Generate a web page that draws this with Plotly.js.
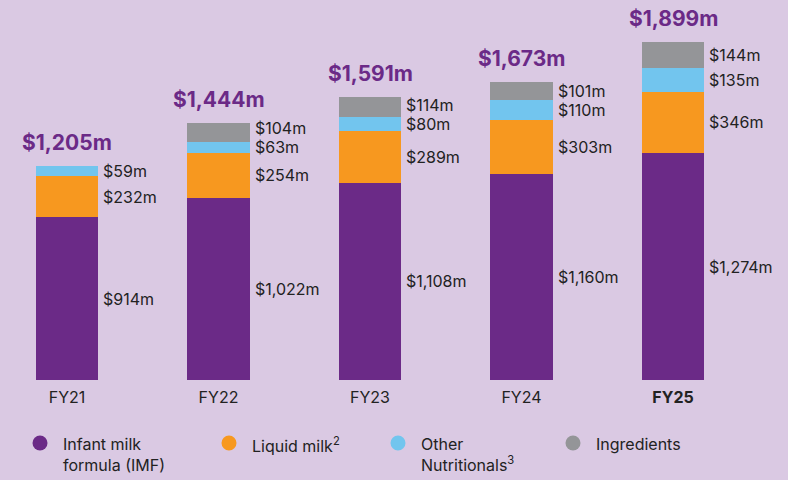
<!DOCTYPE html>
<html>
<head>
<meta charset="utf-8">
<script src="https://cdn.plot.ly/plotly-3.0.1.min.js"></script>
<style>html,body{margin:0;padding:0;background:#dac9e3;}#chart{width:788px;height:480px;}</style>
</head>
<body>
<div id="chart"></div>
<script>
const years = ['FY21', 'FY22', 'FY23', 'FY24', 'FY25'];
const imf = [914, 1022, 1108, 1160, 1274];
const liquidMilk = [232, 254, 289, 303, 346];
const otherNutritionals = [59, 63, 80, 110, 135];
const ingredients = [null, 104, 114, 101, 144];
const totals = [1205, 1444, 1591, 1673, 1899];
const seriesNames = ['Infant milk<br>formula (IMF)', 'Liquid milk<sup>2</sup>', 'Other<br>Nutritionals<sup>3</sup>', 'Ingredients'];
const colors = ['#6b2a87', '#f7981f', '#72c5ee', '#949598'];

const W = 788, H = 480, T = 0, B = 100;
const plotH = H - T - B;
const SCALE = 0.178; // px per $m
const FONT = 'Inter, sans-serif';
const xs = years.map((_, i) => i);
const barW = 0.41;
const series = [imf, liquidMilk, otherNutritionals, ingredients];

const fmt = v => '$' + v.toLocaleString('en-US') + 'm';

const traces = series.map((s, k) => ({
  type: 'bar', x: xs, y: s.map(v => v == null ? 0 : v), name: seriesNames[k].replace(/<[^>]+>/g, ' '),
  marker: {color: colors[k], line: {width: 0}}, width: barW, showlegend: false,
  hoverinfo: 'skip'
}));

const annotations = [];
const gap = 19 / SCALE;
xs.forEach(i => {
  let base = 0;
  const labs = [];
  series.forEach(s => {
    const v = s[i];
    if (v == null) return;
    labs.push({v: v, y: base + v / 2});
    base += v;
  });
  for (let k = 1; k < labs.length; k++) {
    if (labs[k].y < labs[k - 1].y + gap) labs[k].y = labs[k - 1].y + gap;
  }
  labs.forEach(l => annotations.push({x: i + barW / 2, y: l.y, xref: 'x', yref: 'y', text: fmt(l.v),
    showarrow: false, xanchor: 'left', yanchor: 'middle', xshift: 4, borderpad: 0,
    font: {family: FONT, size: 16, color: '#222'}}));
  annotations.push({x: i, y: totals[i], xref: 'x', yref: 'y', text: '<b>' + fmt(totals[i]) + '</b>',
    showarrow: false, xanchor: 'center', yanchor: 'bottom', yshift: 9,
    font: {family: FONT, size: 21, color: '#6b2a87'}});
});

// legend (drawn)
const py = p => (H - B - p) / plotH;
const px = p => p / W;
const legendX = [40, 229, 398, 573];
const shapes = [];
legendX.forEach((cx, k) => {
  shapes.push({type: 'circle', xref: 'paper', yref: 'paper',
    x0: px(cx - 7.5), x1: px(cx + 7.5), y0: py(443 + 7.5), y1: py(443 - 7.5),
    fillcolor: colors[k], line: {width: 0}});
  annotations.push({xref: 'paper', yref: 'paper', x: px(cx + 21), y: py(432),
    text: seriesNames[k], showarrow: false, xanchor: 'left', yanchor: 'top', align: 'left',
    font: {family: FONT, size: 16, color: '#222'}});
});

const layout = {
  width: W, height: H, margin: {l: 0, r: 0, t: T, b: B},
  paper_bgcolor: '#dac9e3', plot_bgcolor: '#dac9e3',
  barmode: 'stack',
  xaxis: {range: [-67 / 151.5, (W - 67) / 151.5], tickvals: xs,
    ticktext: years.map((y, i) => i === years.length - 1 ? '<b>' + y + '</b>' : y),
    showgrid: false, zeroline: false, showline: false, ticks: '', fixedrange: true,
    ticklabelstandoff: 6,
    tickfont: {family: FONT, size: 16, color: '#222'}},
  yaxis: {range: [0, plotH / SCALE], visible: false, showgrid: false, zeroline: false},
  annotations: annotations, shapes: shapes, showlegend: false
};

Plotly.newPlot('chart', traces, layout, {displayModeBar: false, staticPlot: true});
</script>
</body>
</html>
